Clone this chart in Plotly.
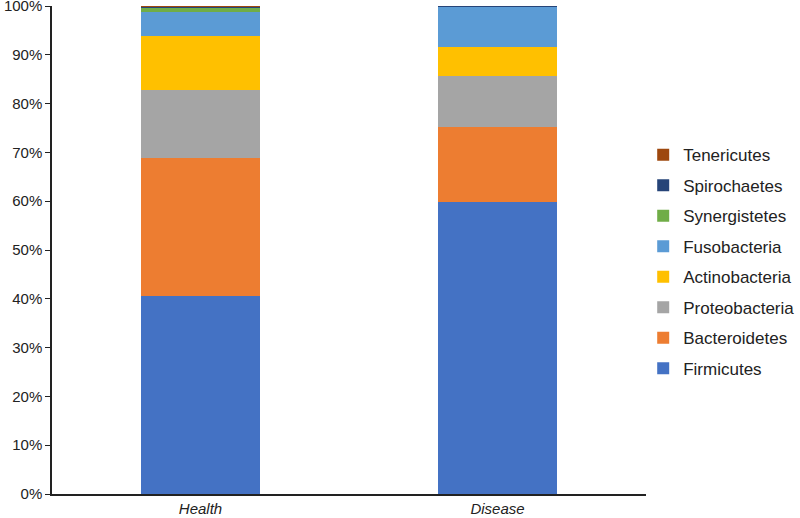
import plotly.graph_objects as go

groups = ["Health", "Disease"]
phyla = ["Firmicutes", "Bacteroidetes", "Proteobacteria", "Actinobacteria",
         "Fusobacteria", "Synergistetes", "Spirochaetes", "Tenericutes"]
health = [40.6, 28.3, 13.9, 11.1, 4.9, 0.8, 0.3, 0.1]
disease = [59.8, 15.4, 10.5, 5.8, 8.4, 0.0, 0.1, 0.0]
colors = ["#4472C4", "#ED7D31", "#A5A5A5", "#FFC000",
          "#5B9BD5", "#70AD47", "#264478", "#9E480E"]

fig = go.Figure()
for i, name in enumerate(phyla):
    fig.add_trace(go.Bar(
        x=["<i>" + g + "</i>" for g in groups],
        y=[health[i] / 100, disease[i] / 100],
        name=name,
        marker=dict(color=colors[i], line=dict(width=0)),
        width=0.4,
        legendgroup=name,
        legendrank=len(phyla) - i,
    ))

fig.update_layout(
    barmode="stack",
    width=800, height=518,
    margin=dict(l=52, r=154, t=6, b=24, autoexpand=False),
    plot_bgcolor="white", paper_bgcolor="white",
    font=dict(family="Liberation Sans, Arial, sans-serif", size=15, color="#222"),
    legend=dict(
        traceorder="grouped",
        tracegroupgap=5.4,
        xref="container", yref="container",
        x=0.804, xanchor="left", y=0.735, yanchor="top",
        font=dict(size=17, color="#222"),
        itemwidth=30,
    ),
    xaxis=dict(showline=True, linecolor="#222", linewidth=1.5, ticks="",
               showgrid=False, tickfont=dict(size=15), automargin=False),
    yaxis=dict(range=[0, 1], tickformat=".0%", dtick=0.1, showline=True,
               linecolor="#222", linewidth=1.5, ticks="outside", ticklen=5,
               tickcolor="#222", showgrid=False, zeroline=False,
               tickfont=dict(size=15), automargin=False,
               ticklabeloverflow="allow"),
)
fig.write_html("out.html", config={"displayModeBar": False},
               post_script="document.body.style.margin='0';document.body.style.padding='0';")
